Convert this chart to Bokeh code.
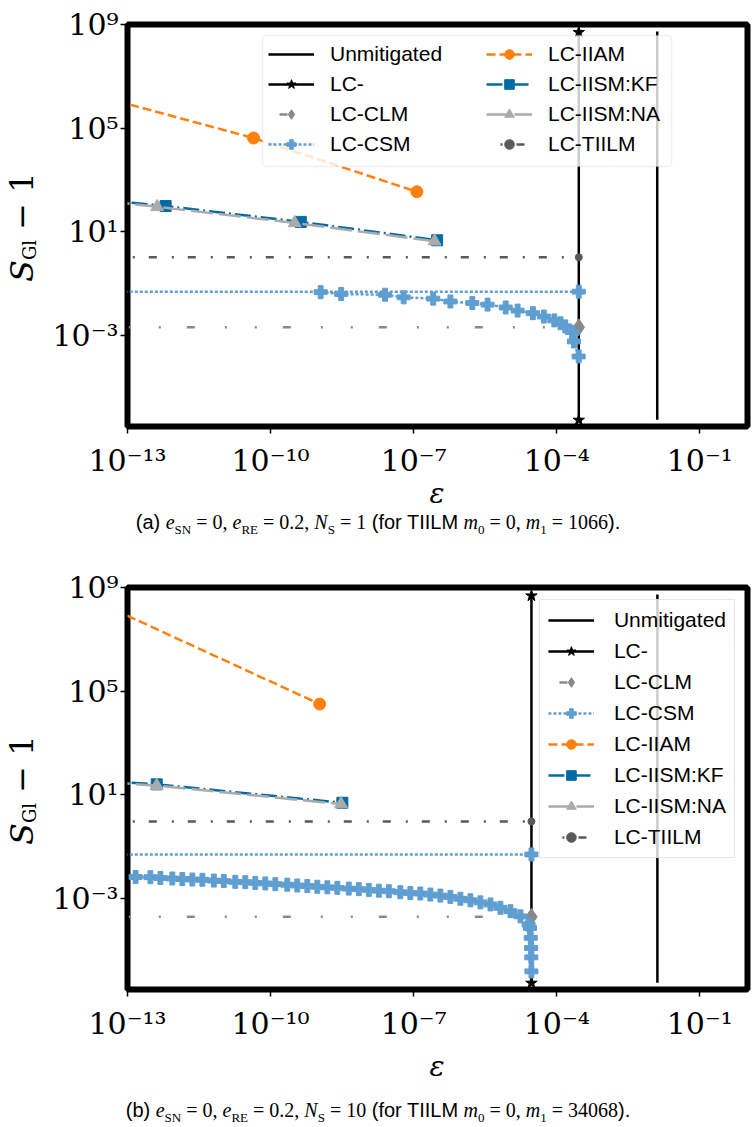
from bokeh.plotting import figure
from bokeh.models import (Range1d, FixedTicker, CustomJSTickFormatter, Legend, LegendItem,
                          BoxAnnotation, Div)
from bokeh.layouts import column, row
from bokeh.embed import file_html
from bokeh.resources import INLINE

# ---------------- axis ticks (powers of ten) ----------------
x_tick_exps = [-13, -10, -7, -4, -1]
y_tick_exps = [9, 5, 1, -3]
eps_start = 1e-14          # first evaluated epsilon (left of the visible window)

# ---------------- (a)  N_S = 1 ----------------
a_unmit_eps = 0.0128
a_unmit_S = [5.8e-7, 5.4e8]
a_lc_eps = 2.9e-4
a_lc_S = [5.6e-7, 5.0e8]
a_clm_S = 2.1e-3
a_csm_flat_S = 0.050
a_tiilm_S = 1.06
a_csm_log_eps = [-8.95, -8.52, -7.60, -7.21, -6.59, -6.23, -5.77, -5.45, -5.07,
                 -4.82, -4.50, -4.27, -4.05, -3.92, -3.82, -3.68, -3.64, -3.54]
a_csm_log_S = [-1.32, -1.39, -1.42, -1.52, -1.57, -1.68, -1.74, -1.80, -1.91,
               -2.03, -2.13, -2.26, -2.41, -2.52, -2.64, -2.86, -3.22, -3.80]
a_iiam_eps = [1e-14, 4.4e-11, 1.17e-7]
a_iiam_S = [2.7e6, 4.2e4, 355]
a_kf_eps = [1e-14, 6.3e-13, 4.3e-10, 3.1e-7]
a_kf_S = [214, 100, 24.5, 4.8]
a_na_eps = [1e-14, 4.2e-13, 3.2e-10, 2.75e-7]
a_na_S = [200, 93, 22.4, 4.4]

# ---------------- (b)  N_S = 10 ----------------
b_unmit_eps = 0.0129
b_unmit_S = [5.8e-7, 5.4e8]
b_lc_eps = 2.95e-5
b_lc_S = [5.6e-7, 4.8e8]
b_clm_S = 2.0e-4
b_csm_flat_S = 0.051
b_tiilm_S = 0.96
b_csm_log_eps = [-12.83, -12.52, -12.31, -12.06, -11.85, -11.64, -11.43, -11.19, -10.98,
                 -10.74, -10.53, -10.32, -10.11, -9.90, -9.65, -9.44, -9.23, -9.02,
                 -8.81, -8.60, -8.36, -8.15, -7.94, -7.73, -7.52, -7.28, -7.07,
                 -6.86, -6.65, -6.44, -6.23, -6.02, -5.81, -5.60, -5.39, -5.18,
                 -4.97, -4.76, -4.59, -4.56, -4.545, -4.537, -4.533, -4.531]
b_csm_log_S = [-2.16, -2.17, -2.20, -2.22, -2.24, -2.26, -2.27, -2.30, -2.32,
               -2.35, -2.36, -2.39, -2.41, -2.44, -2.46, -2.49, -2.51, -2.54,
               -2.56, -2.58, -2.61, -2.63, -2.66, -2.69, -2.71, -2.75, -2.78,
               -2.80, -2.84, -2.88, -2.93, -3.00, -3.06, -3.14, -3.22, -3.35,
               -3.48, -3.68, -4.00, -4.13, -4.51, -4.90, -5.26, -5.80]
b_iiam_eps = [1e-14, 1.07e-9]
b_iiam_S = [5.7e8, 3.2e4]
b_kf_eps = [1e-14, 4.1e-13, 3.2e-9]
b_kf_S = [40, 25.7, 5.0]
b_na_eps = [1e-14, 4.1e-13, 3.0e-9]
b_na_S = [37, 22.9, 4.47]

# colours (tableau colour-blind palette)
C_CLM = "#898989"
C_CSM = "#5F9ED1"
C_IIAM = "#FF800E"
C_KF = "#006BA4"
C_NA = "#ABABAB"
C_TIILM = "#595959"

LABELS = ["Unmitigated", "LC-", "LC-CLM", "LC-CSM",
          "LC-IIAM", "LC-IISM:KF", "LC-IISM:NA", "LC-TIILM"]

PAGE_W = 756
YLAB_W = 45
W = PAGE_W - YLAB_W
H = 480
B_LEFT, B_RIGHT, B_TOP = 82, 9, 24
FRAME_H = 402
B_BOTTOM = H - B_TOP - FRAME_H
FRAME_LEFT_PAGE = YLAB_W + B_LEFT

SERIF = "DejaVu Serif"
SANS = "Liberation Sans"

pow10_fmt = CustomJSTickFormatter(code="""
const e = Math.round(Math.log10(tick));
const m = {"-": "\\u207b", "0": "\\u2070", "1": "\\u00b9", "2": "\\u00b2", "3": "\\u00b3",
           "4": "\\u2074", "5": "\\u2075", "6": "\\u2076", "7": "\\u2077", "8": "\\u2078", "9": "\\u2079"};
let s = "";
for (const c of String(e)) s += m[c];
return "10" + s;
""")


def style_legend(lg, boxed, spacing, standoff):
    lg.label_text_font = SANS
    lg.label_text_font_size = "21px"
    lg.label_text_color = "black"
    lg.glyph_width = 46
    lg.glyph_height = 24
    lg.label_height = 24
    lg.label_standoff = standoff
    lg.padding = 8
    lg.spacing = spacing
    if boxed:
        lg.border_line_color = "#cccccc"
        lg.border_line_width = 1.5
        lg.background_fill_color = "white"
        lg.background_fill_alpha = 0.8
        lg.margin = 12
    else:
        lg.border_line_color = None
        lg.background_fill_alpha = 0.0
        lg.margin = 0


def ylabel_div():
    """Strip left of a panel with the rotated y-axis title S_Gl - 1."""
    inner = (f"<div style=\"position:absolute;left:-34px;top:205px;width:112px;height:42px;"
             f"transform:rotate(-90deg);transform-origin:50% 50%;text-align:left;"
             f"font-family:'{SERIF}';font-size:32px;line-height:42px;color:#000;white-space:nowrap;\">"
             f"<i>S</i><span style=\"font-size:18px;position:relative;top:3px;\">Gl</span>"
             f" \u2212 1</div>")
    html = f"<div style=\"position:relative;width:{YLAB_W}px;height:{H}px;\">{inner}</div>"
    return Div(text=html, width=YLAB_W, height=H, margin=(0, 0, 0, 0))


def build(unmit_eps, unmit_S, lc_eps, lc_S, clm_S, csm_flat_S, tiilm_S,
          csm_log_eps, csm_log_S, iiam_eps, iiam_S, kf_eps, kf_S, na_eps, na_S,
          two_col_legend):
    p = figure(width=W, height=H, x_axis_type="log", y_axis_type="log",
               x_range=Range1d(1e-13, 1.0), y_range=Range1d(10 ** -6.5, 1e9),
               output_backend="svg", toolbar_location=None,
               min_border_left=B_LEFT, min_border_right=B_RIGHT,
               min_border_top=B_TOP, min_border_bottom=B_BOTTOM)
    p.xgrid.visible = False
    p.ygrid.visible = False
    p.outline_line_color = "black"
    p.outline_line_width = 6
    p.outline_line_alpha = 1.0
    p.background_fill_color = "white"

    p.xaxis.ticker = FixedTicker(ticks=[10.0 ** e for e in x_tick_exps])
    p.yaxis.ticker = FixedTicker(ticks=[10.0 ** e for e in y_tick_exps])
    for ax in (p.xaxis[0], p.yaxis[0]):
        ax.formatter = pow10_fmt
        ax.axis_line_color = None
        ax.major_tick_line_color = "black"
        ax.major_tick_line_width = 1.5
        ax.major_tick_out = 7
        ax.major_tick_in = 0
        ax.minor_tick_line_color = None
        ax.major_label_text_font = SERIF
        ax.major_label_text_font_size = "30px"
        ax.major_label_text_color = "black"
    p.xaxis.major_label_standoff = 9
    p.yaxis.major_label_standoff = 2

    lw = 2.5
    unmit = p.line([unmit_eps] * 2, unmit_S, line_color="black", line_width=lw)

    lc_line = p.line([lc_eps] * 2, lc_S, line_color="black", line_width=lw)
    lc_pts = p.scatter([lc_eps] * 2, lc_S, marker="star", size=12, color="black")

    clm_line = p.line([eps_start, lc_eps], [clm_S] * 2, line_color=C_CLM, line_width=lw,
                      line_dash="8 30 2 28 2 26", line_dash_offset=85)
    clm_pt = p.scatter([lc_eps], [clm_S], marker="diamond", size=17, color=C_CLM)

    csm_line = p.line([eps_start, lc_eps], [csm_flat_S] * 2, line_color=C_CSM,
                      line_width=lw, line_dash="3 2")
    csm_pt = p.scatter([lc_eps], [csm_flat_S], marker="plus", size=13, color=C_CSM)
    cx = [10.0 ** v for v in csm_log_eps]
    cy = [10.0 ** v for v in csm_log_S]
    p.line(cx, cy, line_color=C_CSM, line_width=lw, line_dash="3 2")
    p.scatter(cx, cy, marker="plus", size=13, color=C_CSM)

    iiam_line = p.line(iiam_eps, iiam_S, line_color=C_IIAM, line_width=lw, line_dash="9 4")
    iiam_pts = p.scatter(iiam_eps, iiam_S, marker="circle", size=12, color=C_IIAM)

    kf_line = p.line(kf_eps, kf_S, line_color=C_KF, line_width=lw, line_dash="16 4 2 4")
    kf_pts = p.scatter(kf_eps, kf_S, marker="square", size=11, color=C_KF)

    na_line = p.line(na_eps, na_S, line_color=C_NA, line_width=lw, line_dash="22 6")
    na_pts = p.scatter(na_eps, na_S, marker="triangle", size=13, color=C_NA)

    tiilm_line = p.line([eps_start, lc_eps], [tiilm_S] * 2, line_color=C_TIILM, line_width=lw,
                        line_dash="8 15 2 14", line_dash_offset=9)
    tiilm_pt = p.scatter([lc_eps], [tiilm_S], marker="circle", size=7, color=C_TIILM)

    groups = [[unmit], [lc_line, lc_pts], [clm_line, clm_pt], [csm_line, csm_pt],
              [iiam_line, iiam_pts], [kf_line, kf_pts], [na_line, na_pts],
              [tiilm_line, tiilm_pt]]
    items = [LegendItem(label=lab, renderers=g) for lab, g in zip(LABELS, groups)]

    if two_col_legend:
        # one shared rounded frame behind two legend columns
        box = BoxAnnotation(left=135, right=544, top=391, bottom=260,
                            left_units="screen", right_units="screen",
                            top_units="screen", bottom_units="screen",
                            fill_color="white", fill_alpha=0.8,
                            line_color="#cccccc", line_width=1.5, border_radius=4)
        p.add_layout(box)
        leg1 = Legend(items=items[:4], location=(141, 270))
        leg2 = Legend(items=items[4:], location=(359, 270))
        for lg in (leg1, leg2):
            style_legend(lg, False, 6, 16)
            p.add_layout(lg)
    else:
        leg = Legend(items=items, location="top_right")
        style_legend(leg, True, 7, 20)
        p.add_layout(leg)
    return p


def under_text(tag, ns, m1, height, eps_mid, cap_mid):
    """Block under a panel: the x-axis title and the panel caption."""
    m = "font-family:'Liberation Serif',serif;"
    sub = "font-size:13px;"

    def var(v, s):
        return f"<span style=\"{m}\"><i>{v}</i><sub style=\"{sub}\">{s}</sub></span>"

    def txt(t):
        return f"<span style=\"{m}\">{t}</span>"

    eps = (f"<div style=\"position:absolute;left:{FRAME_LEFT_PAGE}px;width:620px;top:{eps_mid - 10}px;"
           f"height:20px;text-align:center;font-family:'{SERIF}';font-style:italic;font-size:28px;"
           f"line-height:20px;color:#000;\">\u03b5</div>")
    cap = (f"<div style=\"position:absolute;left:0;width:{PAGE_W}px;top:{cap_mid - 10}px;height:20px;"
           f"text-align:center;font-family:'Liberation Sans',sans-serif;"
           f"font-size:20px;line-height:20px;color:#000;white-space:nowrap;\">"
           f"({tag}) {var('e', 'SN')}{txt(' = 0, ')}{var('e', 'RE')}{txt(' = 0.2, ')}"
           f"{var('N', 'S')}{txt(' = ' + ns)} (for TIILM {var('m', '0')}{txt(' = 0, ')}"
           f"{var('m', '1')}{txt(' = ' + m1)}).</div>")
    html = f"<div style=\"position:relative;width:{PAGE_W}px;height:{height}px;\">{eps}{cap}</div>"
    return Div(text=html, width=PAGE_W, height=height, margin=(0, 0, 0, 0))


pa = build(a_unmit_eps, a_unmit_S, a_lc_eps, a_lc_S, a_clm_S, a_csm_flat_S, a_tiilm_S,
           a_csm_log_eps, a_csm_log_S, a_iiam_eps, a_iiam_S, a_kf_eps, a_kf_S,
           a_na_eps, a_na_S, True)
pb = build(b_unmit_eps, b_unmit_S, b_lc_eps, b_lc_S, b_clm_S, b_csm_flat_S, b_tiilm_S,
           b_csm_log_eps, b_csm_log_S, b_iiam_eps, b_iiam_S, b_kf_eps, b_kf_S,
           b_na_eps, b_na_S, False)

layout = column(
    row(ylabel_div(), pa, spacing=0),
    under_text("a", "1", "1066", 83, 14, 42),
    row(ylabel_div(), pb, spacing=0),
    under_text("b", "10", "34068", 84, 24, 67),
    spacing=0)

with open("out.html", "w", encoding="utf-8") as f:
    f.write(file_html(layout, INLINE))
